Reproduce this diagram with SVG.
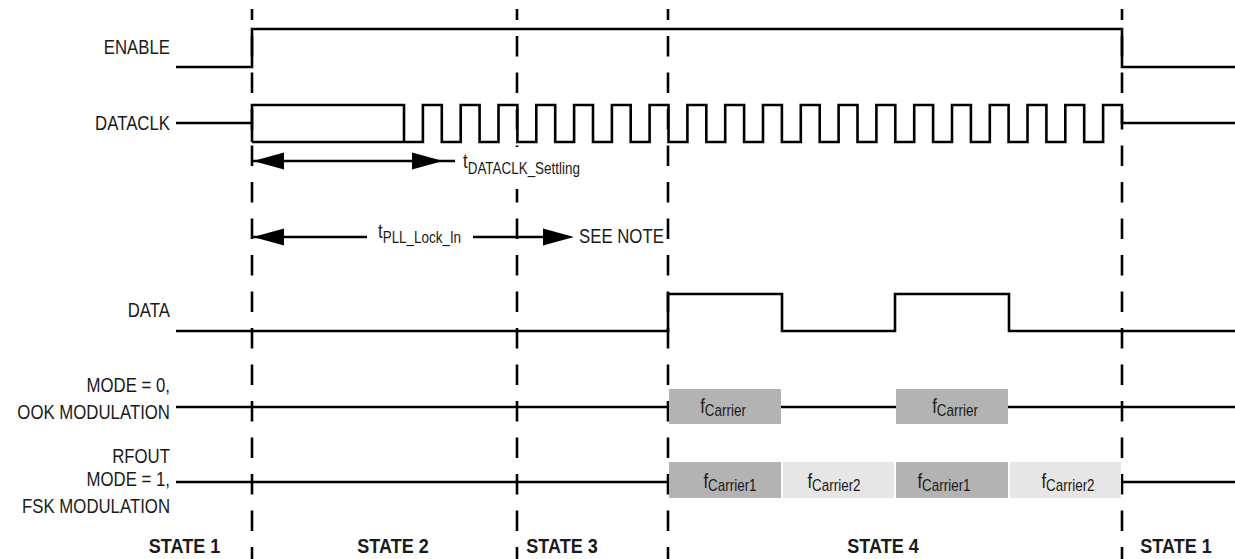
<svg xmlns="http://www.w3.org/2000/svg" width="1235" height="559" viewBox="0 0 1235 559">
<style>
text{font-family:"Liberation Sans",Arial,sans-serif;font-size:20px;fill:#1a1a1a}
.lbl{text-anchor:end}
.st{font-weight:bold;text-anchor:middle}
.sub{font-size:16px}
.c{text-anchor:middle}
.sig{fill:none;stroke:#000;stroke-width:2.6}
.dash{fill:none;stroke:#000;stroke-width:2.6;stroke-dasharray:20.5 16;stroke-dashoffset:9.5}
.dark{fill:#b3b3b3}
.light{fill:#e6e6e6}
</style>
<defs>
<path id="ahR" d="M0,0 L-31,-8.5 L-31,8.5 Z" fill="#000"/>
<path id="ahL" d="M0,0 L31,-8.5 L31,8.5 Z" fill="#000"/>
</defs>
<g id="state-dividers">
<line class="dash" x1="252" y1="9" x2="252" y2="559"/>
<line class="dash" x1="517" y1="9" x2="517" y2="559"/>
<line class="dash" x1="668" y1="9" x2="668" y2="559"/>
<line class="dash" x1="1122" y1="9" x2="1122" y2="559"/>
</g>
<g id="enable">
<text class="lbl" transform="translate(170,54) scale(0.84,1)">ENABLE</text>
<path class="sig" d="M176,67 H252 V29 H1122 V67 H1235"/>
</g>
<g id="dataclk">
<text class="lbl" transform="translate(170,130) scale(0.84,1)">DATACLK</text>
<path class="sig" d="M176,123 H252 M252,142 V105 H404 V142 M252,142 H422.9 V105 H441.8 V142 H460.7 V105 H479.6 V142 H498.5 V105 H517.4 V142 H536.3 V105 H555.2 V142 H574.1 V105 H593 V142 H611.9 V105 H630.7 V142 H649.6 V105 H668.5 V142 H687.4 V105 H706.3 V142 H725.2 V105 H744.1 V142 H763 V105 H781.9 V142 H800.8 V105 H819.7 V142 H838.6 V105 H857.5 V142 H876.4 V105 H895.3 V142 H914.2 V105 H933.1 V142 H952 V105 H970.9 V142 H989.8 V105 H1008.6 V142 H1027.5 V105 H1046.4 V142 H1065.3 V105 H1084.2 V142 H1103.1 V105 H1122 V123 H1235"/>
</g>
<g id="connectors">
<path class="sig" d="M252,161 H455"/>
<use href="#ahL" x="253" y="161"/>
<use href="#ahR" x="443" y="161"/>
<path class="sig" d="M252,237 H367 M473,237 H545"/>
<use href="#ahL" x="253" y="237"/>
<use href="#ahR" x="574" y="237"/>
</g>
<g id="t-dataclk-settling">
<rect x="457" y="147" width="132" height="42" fill="#fff"/>
<text transform="translate(463,168) scale(0.84,1)">t<tspan class="sub" dy="6">DATACLK_Settling</tspan></text>
</g>
<g id="t-pll-lock-in">
<text transform="translate(378,238) scale(0.84,1)">t<tspan class="sub" dy="5">PLL_Lock_In</tspan></text>
</g>
<g id="see-note">
<text transform="translate(579,243) scale(0.84,1)">SEE NOTE</text>
</g>
<g id="data">
<text class="lbl" transform="translate(170,317) scale(0.84,1)">DATA</text>
<path class="sig" d="M176,331 H668 V294 H782 V331 H895 V294 H1009 V331 H1235"/>
</g>
<g id="ook">
<text class="lbl" transform="translate(170,392) scale(0.84,1)">MODE = 0,</text>
<text class="lbl" transform="translate(170,419) scale(0.84,1)">OOK MODULATION</text>
<path class="sig" d="M176,407 H669 M781,407 H896 M1008,407 H1235"/>
<rect class="dark" x="669" y="389" width="112" height="35"/>
<rect class="dark" x="896" y="389" width="112" height="35"/>
<text class="c" transform="translate(723,413) scale(0.84,1)">f<tspan class="sub" dy="3">Carrier</tspan></text>
<text class="c" transform="translate(955,413) scale(0.84,1)">f<tspan class="sub" dy="3">Carrier</tspan></text>
</g>
<g id="fsk">
<text class="lbl" transform="translate(170,463) scale(0.84,1)">RFOUT</text>
<text class="lbl" transform="translate(170,486) scale(0.84,1)">MODE = 1,</text>
<text class="lbl" transform="translate(170,513) scale(0.84,1)">FSK MODULATION</text>
<path class="sig" d="M176,482 H669 M1122,482 H1235"/>
<rect class="dark" x="669" y="462" width="112" height="36"/>
<rect class="light" x="783" y="462" width="111" height="36"/>
<rect class="dark" x="896" y="462" width="112" height="36"/>
<rect class="light" x="1010" y="462" width="111" height="36"/>
<text class="c" transform="translate(730,488) scale(0.84,1)">f<tspan class="sub" dy="3">Carrier1</tspan></text>
<text class="c" transform="translate(834,488) scale(0.84,1)">f<tspan class="sub" dy="3">Carrier2</tspan></text>
<text class="c" transform="translate(944,488) scale(0.84,1)">f<tspan class="sub" dy="3">Carrier1</tspan></text>
<text class="c" transform="translate(1068,488) scale(0.84,1)">f<tspan class="sub" dy="3">Carrier2</tspan></text>
</g>
<g id="states">
<text class="st" transform="translate(184.5,553) scale(0.9,1)">STATE 1</text>
<text class="st" transform="translate(393,553) scale(0.9,1)">STATE 2</text>
<text class="st" transform="translate(562,553) scale(0.9,1)">STATE 3</text>
<text class="st" transform="translate(883,553) scale(0.9,1)">STATE 4</text>
<text class="st" transform="translate(1176,553) scale(0.9,1)">STATE 1</text>
</g>
</svg>
